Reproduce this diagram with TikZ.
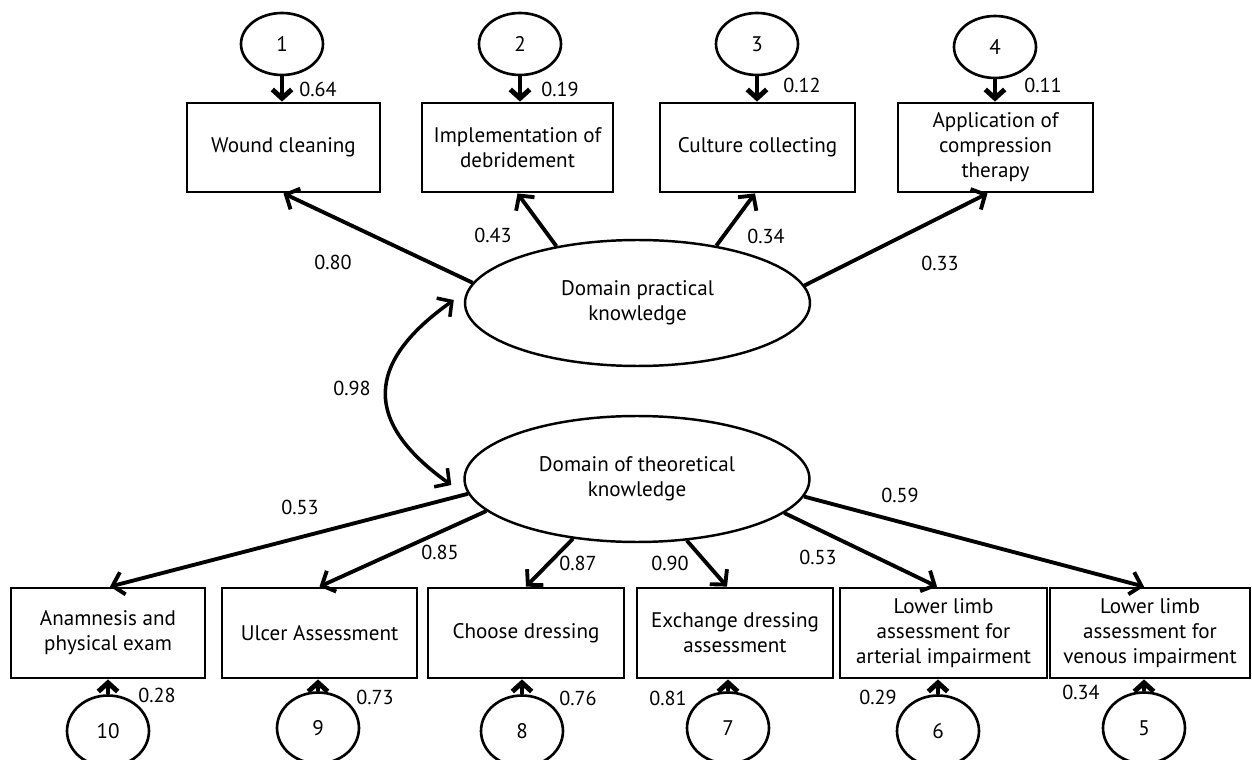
\documentclass[tikz,border=0pt]{standalone}
\usepackage{fontspec}
\setmainfont{PT Sans}
\usetikzlibrary{shapes.geometric,arrows.meta,calc}
\begin{document}
\begin{tikzpicture}[x=0.02cm,y=-0.02cm,
  every node/.style={font=\fontsize{12}{14.2}\selectfont},
  box/.style={draw,line width=1.6pt,inner sep=0pt,minimum height=1.78cm,align=center},
  lat/.style={ellipse,draw,line width=1.4pt,inner sep=0pt,minimum width=6.9cm,minimum height=2.52cm,align=center},
  err/.style={ellipse,draw,line width=1.5pt,inner sep=0pt,minimum width=1.64cm,minimum height=1.24cm},
  errb/.style={err,minimum height=1.42cm},
  load/.style={line width=2.2pt,-{Straight Barb[length=6pt,width=13pt]}},
  res/.style={line width=2.8pt,-{Straight Barb[length=5pt,width=11pt]}},
  cov/.style={line width=2pt,{Straight Barb[length=6pt,width=13pt]}-{Straight Barb[length=6pt,width=13pt]}},
  num/.style={font=\fontsize{11.5}{13}\selectfont}
]
\useasboundingbox (0,0) rectangle (1252,760);

% top indicators
\node[box,minimum width=3.86cm] (b1) at (283.5,147.5) {Wound cleaning};
\node[box,minimum width=3.82cm] (b2) at (517.5,147.5) {Implementation of\\debridement};
\node[box,minimum width=3.9cm] (b3) at (757.5,147.5) {Culture collecting};
\node[box,minimum width=3.9cm] (b4) at (995.5,147.5) {Application of\\compression\\therapy};

\node[err] (c1) at (282,44) {1};
\node[err] (c2) at (520,44) {2};
\node[err] (c3) at (757,44) {3};
\node[err] (c4) at (995,47) {4};

\draw[res] (c1.south) -- (c1.south |- b1.north);
\draw[res] (c2.south) -- (c2.south |- b2.north);
\draw[res] (c3.south) -- (c3.south |- b3.north);
\draw[res] (c4.south) -- (c4.south |- b4.north);

\node[num] (r1) at (318,89) {0.64};
\node[num] (r2) at (560,89) {0.19};
\node[num] (r3) at (802,85) {0.12};
\node[num] (r4) at (1043,85) {0.11};

% latent factors
\node[lat] (p) at (637.5,303) {Domain practical\\knowledge};
\node[lat] (t) at (637,479) {Domain of theoretical\\knowledge};

\draw[load] (p.173) -- (b1.south);
\draw[load] (p.145) -- (b2.south);
\draw[load] (p.36) -- ([xshift=-0.05cm]b3.south);
\draw[load] (p.6) -- ([xshift=-0.16cm]b4.south);

\node[num] (l1) at (333,262) {0.80};
\node[num] (l2) at (493,235) {0.43};
\node[num] (l3) at (766,236) {0.34};
\node[num] (l4) at (940,263) {0.33};

% covariance
\draw[cov] ($(p.west)+(-10,-3)$) .. controls (365,363) and (363,422) .. ($(t.west)+(-12,6)$);
\node[num] (l98) at (352,388) {0.98};

% bottom indicators
\node[box,minimum width=3.88cm,minimum height=1.8cm] (b10) at (108,633) {Anamnesis and\\physical exam};
\node[box,minimum width=3.9cm,minimum height=1.8cm] (b9) at (319.5,633) {Ulcer Assessment};
\node[box,minimum width=3.92cm,minimum height=1.8cm] (b8) at (526,633) {Choose dressing};
\node[box,minimum width=3.92cm,minimum height=1.8cm] (b7) at (735,633) {Exchange dressing\\assessment};
\node[box,minimum width=4.14cm,minimum height=1.8cm] (b6) at (943.5,633) {Lower limb\\assessment for\\arterial impairment};
\node[box,minimum width=4.0cm,minimum height=1.8cm] (b5) at (1150,633) {Lower limb\\assessment for\\venous impairment};

\draw[load] (t.185.4) -- ([xshift=0.04cm]b10.north);
\draw[load] (t.192.2) -- (b9.north);
\draw[load] (t.223) -- (b8.north);
\draw[load] (t.309) -- ([xshift=-0.16cm]b7.north);
\draw[load] (t.347.7) -- ([xshift=-0.13cm]b6.north);
\draw[load] (t.354.6) -- ([xshift=-0.12cm]b5.north);

\node[num] (m1) at (300,507) {0.53};
\node[num] (m2) at (440,552) {0.85};
\node[num] (m3) at (578,563) {0.87};
\node[num] (m4) at (670,563) {0.90};
\node[num] (m5) at (818,557) {0.53};
\node[num] (m6) at (900,495) {0.59};

\node[errb] (c10) at (108,731) {10};
\node[errb] (c9) at (318,728) {9};
\node[errb] (c8) at (522,731) {8};
\node[errb] (c7) at (728,728) {7};
\node[errb] (c6) at (938,731) {6};
\node[errb] (c5) at (1144,728) {5};

\draw[res] (c10.north) -- (c10.north |- b10.south);
\draw[res] (c9.north) -- (c9.north |- b9.south);
\draw[res] (c8.north) -- (c8.north |- b8.south);
\draw[res] (c7.north) -- (c7.north |- b7.south);
\draw[res] (c6.north) -- (c6.north |- b6.south);
\draw[res] (c5.north) -- (c5.north |- b5.south);

\node[num] (s10) at (157,695) {0.28};
\node[num] (s9) at (375,697) {0.73};
\node[num] (s8) at (578,698) {0.76};
\node[num] (s7) at (668,698) {0.81};
\node[num] (s6) at (878,697) {0.29};
\node[num] (s5) at (1081,692) {0.34};
\end{tikzpicture}
\end{document}
